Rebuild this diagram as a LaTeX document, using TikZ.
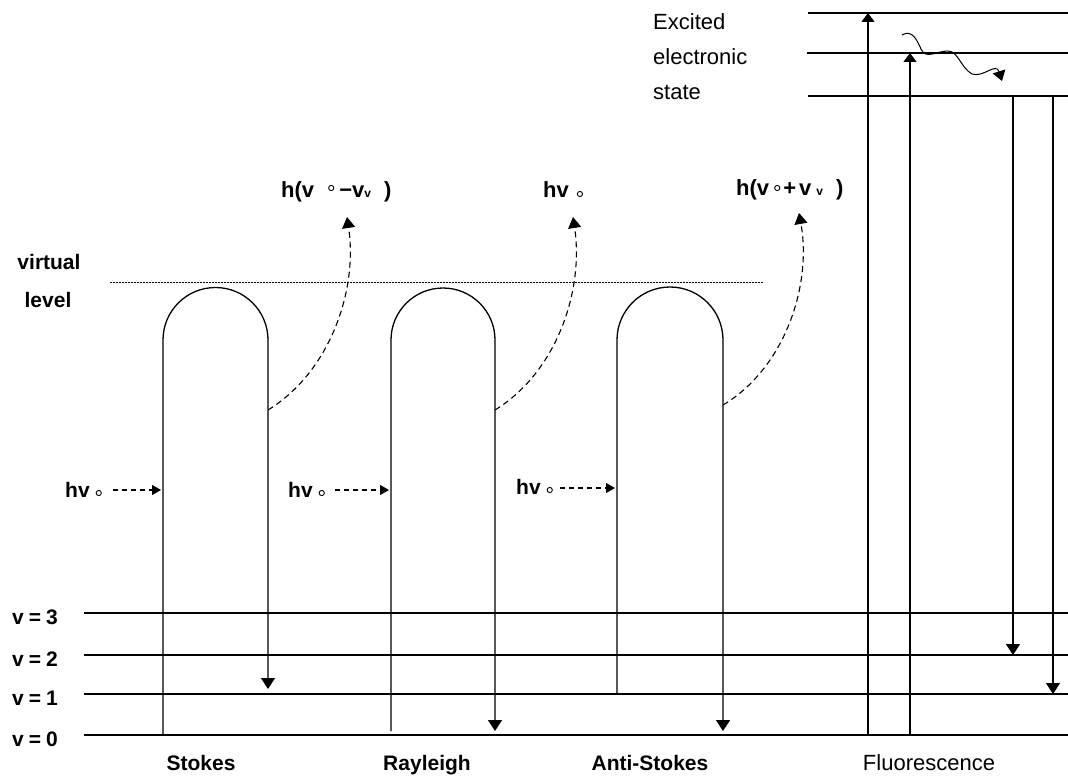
\documentclass[tikz,border=0pt]{standalone}
\usepackage{fontspec}
\setmainfont{Liberation Sans}
\usetikzlibrary{arrows.meta}

% small open ring used as the "nought" mark, raised #1 above the baseline
\newcommand{\ringmark}[1]{\tikz[baseline={(0pt,-#1)}]\draw[line width=0.9pt] (0pt,0pt) circle[radius=2.6pt];}

\begin{document}
\begin{tikzpicture}[x=1pt,y=-1pt,
  energyline/.style={line width=1.4pt},
  loopline/.style={line width=1.3pt},
  bigtip/.style={-{Triangle[width=14pt,length=11pt]}},
  uptip/.style={-{Triangle[width=13pt,length=9pt]}},
  scatter/.style={line width=1.1pt,dash pattern=on 6pt off 4pt,-{Triangle[width=13pt,length=11pt]}},
  incident/.style={line width=1.1pt,dash pattern=on 5pt off 4pt,-{Triangle[width=10pt,length=9pt]}},
  boldlbl/.style={inner sep=0pt,font=\fontsize{21}{25}\selectfont\bfseries},
  sidelbl/.style={inner sep=0pt,font=\fontsize{21}{25}\selectfont\bfseries},
  caplbl/.style={inner sep=0pt,font=\fontsize{21}{25}\selectfont\bfseries},
  plainlbl/.style={inner sep=0pt,font=\fontsize{22}{26}\selectfont},
]
\useasboundingbox (0,0) rectangle (1068,776);

% ground-state vibrational levels
\foreach \y/\n in {613/3,655/2,694/1,735/0}{
  \coordinate (v\n W) at (84,\y);
  \coordinate (v\n E) at (1068,\y);
  \draw[energyline] (v\n W) -- (v\n E);
  \node[sidelbl,anchor=base east] (v\n lab) at (58,\y+11) {v\hspace{5pt}=\hspace{5pt}\n};
}

% excited electronic state levels
\coordinate (e2W) at (808,13);  \coordinate (e2E) at (1068,13);
\coordinate (e1W) at (807,53);  \coordinate (e1E) at (1068,53);
\coordinate (e0W) at (808,96);  \coordinate (e0E) at (1068,96);
\foreach \n in {2,1,0}{\draw[energyline] (e\n W) -- (e\n E);}

% virtual level
\coordinate (virtW) at (110,282);
\coordinate (virtE) at (764,282);
\draw[line width=0.9pt,dash pattern=on 1.6pt off 1.4pt] (virtW) -- (virtE);
\node[boldlbl] (virtlab) at (49,262) {virtual};
\node[boldlbl] (levellab) at (48,300) {level};

% scattering loops: up from the initial level, over the virtual level, down to the final level
\coordinate (Sa) at (163,735); \coordinate (Sb) at (268,689);
\coordinate (Ra) at (391,731); \coordinate (Rb) at (495,731);
\coordinate (Aa) at (617,694); \coordinate (Ab) at (723,731);
\draw[loopline,bigtip] (Sa) -- (163,340) arc[start angle=180,end angle=0,radius=52.5pt] -- (Sb);
\draw[loopline,bigtip] (Ra) -- (391,340) arc[start angle=180,end angle=0,radius=52pt] -- (Rb);
\draw[loopline,bigtip] (Aa) -- (617,340) arc[start angle=180,end angle=0,radius=53pt] -- (Ab);

% incident photons
\coordinate (Sin) at (161,490);
\coordinate (Rin) at (389,490);
\coordinate (Ain) at (615,488);
\node[boldlbl,anchor=base west] (hvS) at (65,497) {hv\hspace{6pt}\ringmark{4pt}};
\node[boldlbl,anchor=base west] (hvR) at (288,497) {hv\hspace{6pt}\ringmark{4pt}};
\node[boldlbl,anchor=base west] (hvA) at (516,494) {hv\hspace{6pt}\ringmark{4pt}};
\draw[incident] ([xshift=11pt]Sin -| hvS.east) -- (Sin);
\draw[incident] ([xshift=10pt]Rin -| hvR.east) -- (Rin);
\draw[incident] ([xshift=7pt]Ain -| hvA.east) -- (Ain);

% scattered photons
\coordinate (Sout) at (268,410); \coordinate (Stip) at (347,217);
\coordinate (Rout) at (495,410); \coordinate (Rtip) at (573,217);
\coordinate (Aout) at (723,405); \coordinate (Atip) at (799,213);
\draw[scatter] (Sout) .. controls (330,372) and (358,290) .. (Stip);
\draw[scatter] (Rout) .. controls (557,372) and (584,290) .. (Rtip);
\draw[scatter] (Aout) .. controls (785,368) and (812,285) .. (Atip);

\node[boldlbl,font=\fontsize{22}{26}\selectfont\bfseries,anchor=base west] (outS) at (281,197)
  {h(v\hspace{14pt}\ringmark{9pt}\hspace{5pt}\textminus v{\fontsize{12}{12}\selectfont v}\hspace{13pt})};
\node[boldlbl,font=\fontsize{22}{26}\selectfont\bfseries,anchor=base west] (outR) at (543,197)
  {hv\hspace{8pt}\ringmark{3pt}};
\node[boldlbl,font=\fontsize{22}{26}\selectfont\bfseries,anchor=base west] (outA) at (736,195)
  {h(v\hspace{5pt}\ringmark{7pt}\hspace{3pt}+\hspace{3pt}v\hspace{5pt}{\fontsize{12}{12}\selectfont v}\hspace{13pt})};

% fluorescence: absorption, relaxation, emission
\coordinate (F1a) at (868,735); \coordinate (F1b) at (868,13);
\coordinate (F2a) at (910,735); \coordinate (F2b) at (910,53);
\coordinate (F3a) at (1013,96); \coordinate (F3b) at (1013,655);
\coordinate (F4a) at (1053,96); \coordinate (F4b) at (1053,694);
\draw[loopline,uptip] (F1a) -- (F1b);
\draw[loopline,uptip] (F2a) -- (F2b);
\draw[loopline,bigtip] (F3a) -- (F3b);
\draw[loopline,bigtip] (F4a) -- (F4b);
\coordinate (wavyA) at (902,35);
\coordinate (wavyB) at (1002,81);
\draw[line width=1pt,-{Triangle[width=13pt,length=10pt]}] (wavyA)
  .. controls (912,29) and (917,40) .. (921,49)
  .. controls (926,60) and (936,51) .. (948,51)
  .. controls (958,51) and (961,68) .. (972,74)
  .. controls (983,78) and (996,62) .. (wavyB);

\node[plainlbl,anchor=west] (exc1) at (653,22) {Excited};
\node[plainlbl,anchor=west] (exc2) at (653,57) {electronic};
\node[plainlbl,anchor=west] (exc3) at (653,92) {state};

% process names
\node[caplbl,anchor=base] (capS) at (201,770) {Stokes};
\node[caplbl,anchor=base] (capR) at (427,770) {Rayleigh};
\node[caplbl,anchor=base] (capA) at (650,770) {Anti-Stokes};
\node[plainlbl,anchor=base] (capF) at (929,770) {Fluorescence};
\end{tikzpicture}
\end{document}
